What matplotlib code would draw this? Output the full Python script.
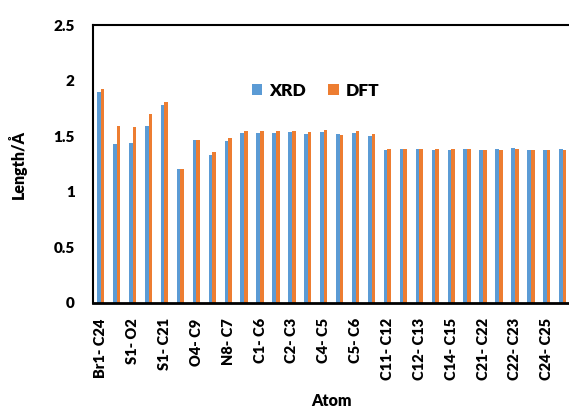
import numpy as np
import matplotlib.pyplot as plt

plt.rcParams['font.family'] = ['Lato', 'DejaVu Sans']
plt.rcParams['font.weight'] = 'heavy'

# Etiquetas visibles (una de cada dos barras)
etiquetas = ['Br1- C24', 'S1- O2', 'S1- C21', 'O4- C9', 'N8- C7', 'C1- C6', 'C2- C3',
             'C4- C5', 'C5- C6', 'C11- C12', 'C12- C13', 'C14- C15', 'C21- C22',
             'C22- C23', 'C24- C25']

# Longitudes de enlace (Å)
xrd = [1.90, 1.43, 1.44, 1.595, 1.778, 1.205, 1.466, 1.328, 1.457, 1.526,
       1.526, 1.526, 1.535, 1.52, 1.535, 1.517, 1.526, 1.50, 1.376, 1.388,
       1.388, 1.379, 1.379, 1.388, 1.379, 1.388, 1.397, 1.379, 1.379, 1.388]
dft = [1.925, 1.59, 1.585, 1.70, 1.805, 1.205, 1.466, 1.355, 1.484, 1.544,
       1.544, 1.544, 1.544, 1.535, 1.553, 1.508, 1.544, 1.52, 1.388, 1.388,
       1.388, 1.388, 1.388, 1.388, 1.379, 1.379, 1.388, 1.379, 1.379, 1.379]

x = np.arange(len(xrd))
ancho = 0.23

fig = plt.figure(figsize=(5.69, 4.12), dpi=100)
ax = fig.add_axes([0.163, 0.2646, 0.840, 0.674])

ax.bar(x - ancho / 2, xrd, ancho, color='#5B9BD5', label='XRD')
ax.bar(x + ancho / 2, dft, ancho, color='#ED7D31', label='DFT')

ax.set_xlim(-0.5, len(xrd) - 0.5)
ax.set_ylim(0, 2.5)
ax.set_yticks([0, 0.5, 1, 1.5, 2, 2.5])
ax.set_yticklabels(['0', '0.5', '1', '1.5', '2', '2.5'])
ax.set_xticks(x[::2])
ax.set_xticklabels(etiquetas, rotation=90)
ax.tick_params(axis='y', length=0, pad=13, labelsize=11)
ax.tick_params(axis='x', length=0, pad=11, labelsize=10.5)

for s in ['left', 'top']:
    ax.spines[s].set_linewidth(1.5)
ax.spines['bottom'].set_linewidth(2)
ax.spines['right'].set_visible(False)

ax.set_xlabel('Atom', fontsize=11.5, fontweight='heavy', labelpad=9)
ax.set_ylabel('Length/Å', fontsize=11.5, fontweight='heavy', labelpad=19)

ax.legend(loc='upper left', bbox_to_anchor=(0.3, 0.85), ncol=2, frameon=False,
          fontsize=12.5, handlelength=0.6, handleheight=0.6, handletextpad=0.4,
          columnspacing=1.3)

fig.savefig('out.png', dpi=100)
